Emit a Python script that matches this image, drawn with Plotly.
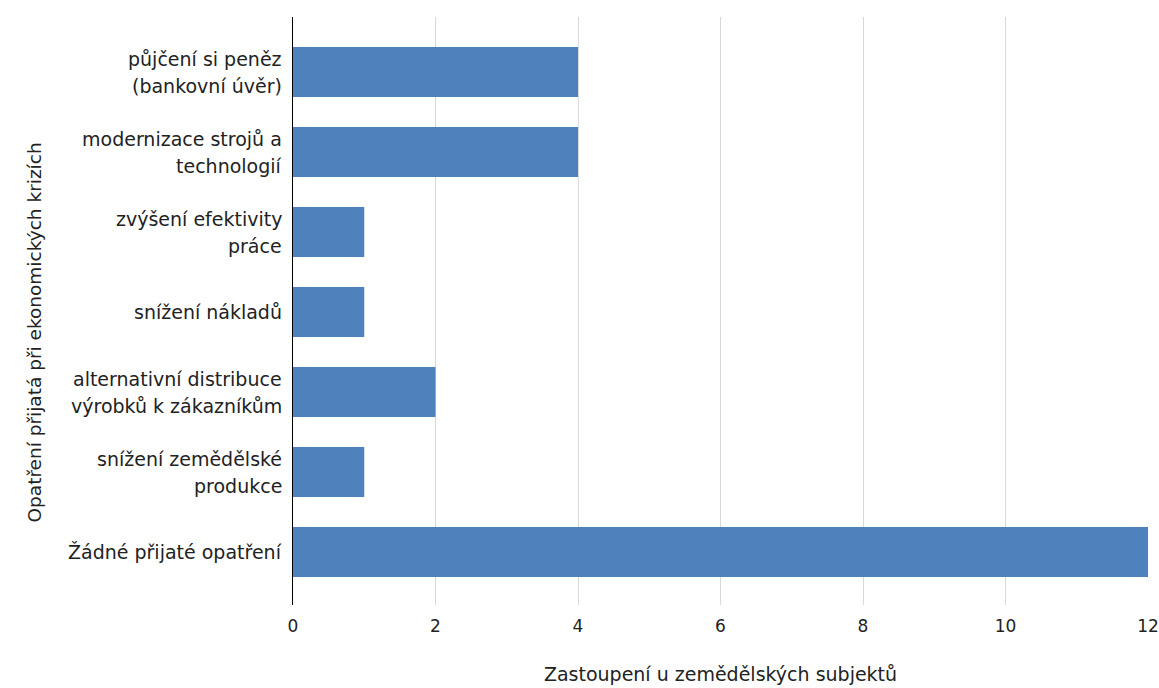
import plotly.graph_objects as go

categories = [
    "Žádné přijaté opatření",
    "snížení zemědělské<br>produkce",
    "alternativní distribuce<br>výrobků k zákazníkům",
    "snížení nákladů",
    "zvýšení efektivity<br>práce",
    "modernizace strojů a<br>technologií",
    "půjčení si peněz<br>(bankovní úvěr)",
]
values = [12, 1, 2, 1, 1, 4, 4]
x_ticks = [0, 2, 4, 6, 8, 10, 12]
x_title = "Zastoupení u zemědělských subjektů"
y_title = "Opatření přijatá při ekonomických krizích"

FONT = "DejaVu Sans"
TXT = "#222222"

W, H = 1159, 688
ML, MR, MT, MB = 293, 11, 17, 83

fig = go.Figure()
fig.add_trace(go.Bar(
    y=list(range(len(categories))),
    x=values,
    orientation="h",
    marker=dict(color="#4F81BD", line=dict(width=0)),
    width=0.625,
    hoverinfo="x",
))

annotations = []
for i, cat in enumerate(categories):
    lines = cat.split("<br>")
    n = len(lines)
    for j, ln in enumerate(lines):
        shift = (n - 1) / 2 * 27 - j * 27
        annotations.append(dict(
            x=0, xref="paper", xanchor="right", xshift=-9,
            y=i, yref="y", yanchor="middle", yshift=shift,
            text=ln, showarrow=False,
            font=dict(family=FONT, size=19, color=TXT),
        ))

plot_h = H - MT - MB
plot_w = W - ML - MR
annotations.append(dict(
    x=(22 - ML) / plot_w, xref="paper",
    y=(H - MB - 333) / plot_h, yref="paper",
    showarrow=False, text=y_title, textangle=-90,
    font=dict(family=FONT, size=18.5, color=TXT),
))

fig.update_layout(
    width=W, height=H,
    margin=dict(l=ML, r=MR, t=MT, b=MB, autoexpand=False),
    paper_bgcolor="white", plot_bgcolor="white",
    showlegend=False,
    font=dict(family=FONT, size=17, color=TXT),
    xaxis=dict(
        range=[0, 12], tickvals=x_ticks, showgrid=True, gridcolor="#d9d9d9",
        gridwidth=1, zeroline=False, showline=False,
        ticklabelstandoff=9, tickfont=dict(family=FONT, size=17, color=TXT),
        title=dict(text=x_title, font=dict(family=FONT, size=19, color=TXT), standoff=32),
        fixedrange=True,
    ),
    yaxis=dict(
        range=[-0.6625, 6.6875], showticklabels=False, showgrid=False,
        zeroline=False, showline=True, linecolor="#000000", linewidth=1,
        ticks="", fixedrange=True,
    ),
    annotations=annotations,
)

fig.write_html(
    "out.html",
    config={"displayModeBar": False},
    post_script="document.body.style.margin='0';document.body.style.padding='0';",
)
